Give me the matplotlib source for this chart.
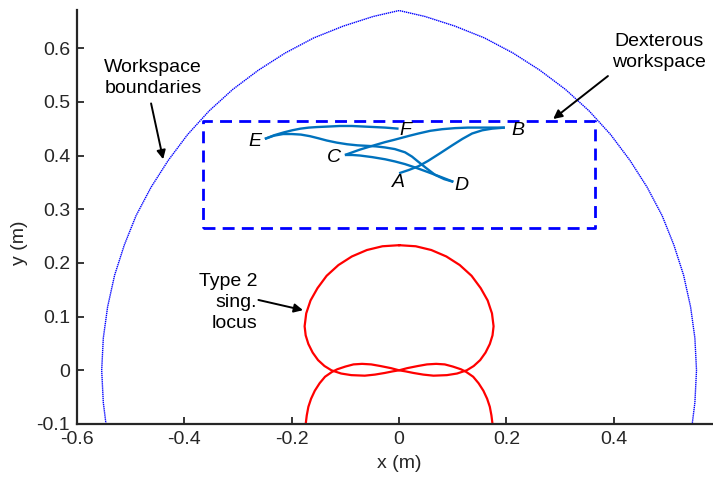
import matplotlib
matplotlib.use('Agg')
import matplotlib.pyplot as plt

plt.rcParams['font.family'] = ['Liberation Sans', 'DejaVu Sans']
plt.rcParams['axes.unicode_minus'] = False

# workspace boundary, right arc (left arc is its mirror)
arc_x = [0.000, 0.048, 0.104, 0.159, 0.212, 0.262, 0.310, 0.354, 0.394, 0.430,
         0.462, 0.490, 0.512, 0.530, 0.543, 0.551, 0.554, 0.551, 0.546]
arc_y = [0.670, 0.659, 0.641, 0.619, 0.591, 0.559, 0.523, 0.483, 0.439, 0.391,
         0.341, 0.288, 0.233, 0.177, 0.118, 0.060, 0.000, -0.060, -0.100]

# dexterous workspace rectangle
dex_x = [-0.365, 0.365, 0.365, -0.365, -0.365]
dex_y = [0.265, 0.265, 0.465, 0.465, 0.265]

# type 2 singularity locus, right halves (mirrored for the left)
loop_x = [0.000, 0.031, 0.060, 0.088, 0.113, 0.135, 0.152, 0.165, 0.173, 0.176,
          0.174, 0.169, 0.161, 0.151, 0.139, 0.126, 0.108, 0.089, 0.064, 0.045,
          0.027, 0.012, 0.000]
loop_y = [0.233, 0.231, 0.224, 0.212, 0.196, 0.176, 0.153, 0.130, 0.106, 0.082,
          0.065, 0.049, 0.033, 0.019, 0.008, 0.000, -0.006, -0.009, -0.010, -0.008,
          -0.005, -0.002, 0.000]
arch_x = [0.000, 0.015, 0.035, 0.052, 0.069, 0.085, 0.100, 0.115, 0.125, 0.138,
          0.148, 0.157, 0.164, 0.169, 0.172, 0.174]
arch_y = [0.000, 0.004, 0.008, 0.011, 0.012, 0.011, 0.007, 0.002, -0.003, -0.012,
          -0.024, -0.038, -0.053, -0.068, -0.084, -0.100]

# trajectories between poses
traj = {
    'EF': ([-0.250, -0.232, -0.215, -0.199, -0.184, -0.168, -0.153, -0.131, -0.110,
            -0.088, -0.067, -0.046, -0.026, -0.001],
           [0.431, 0.438, 0.443, 0.447, 0.450, 0.452, 0.453, 0.454, 0.455,
            0.455, 0.454, 0.453, 0.452, 0.450]),
    'ED': ([-0.250, -0.233, -0.216, -0.200, -0.183, -0.166, -0.150, -0.135, -0.116,
            -0.097, -0.078, -0.060, -0.043, -0.026, -0.008, 0.011, 0.024, 0.035,
            0.050, 0.067, 0.084, 0.101],
           [0.431, 0.437, 0.440, 0.440, 0.439, 0.436, 0.432, 0.428, 0.424,
            0.421, 0.419, 0.418, 0.417, 0.415, 0.412, 0.406, 0.398, 0.389,
            0.377, 0.364, 0.356, 0.351]),
    'CB': ([-0.101, -0.087, -0.073, -0.050, -0.026, -0.010, 0.005, 0.020, 0.036,
            0.058, 0.080, 0.104, 0.128, 0.160, 0.197],
           [0.401, 0.406, 0.411, 0.418, 0.425, 0.429, 0.433, 0.437, 0.441,
            0.446, 0.449, 0.451, 0.452, 0.452, 0.452]),
    'CD': ([-0.101, -0.087, -0.073, -0.050, -0.026, -0.008, 0.011, 0.032, 0.054,
            0.078, 0.101],
           [0.401, 0.401, 0.400, 0.397, 0.393, 0.389, 0.384, 0.377, 0.369,
            0.360, 0.351]),
    'AB': ([0.000, 0.018, 0.036, 0.054, 0.076, 0.099, 0.118, 0.136, 0.155, 0.173, 0.197],
           [0.367, 0.373, 0.380, 0.390, 0.404, 0.419, 0.431, 0.441, 0.447, 0.450, 0.452]),
}

pose_names = ['E', 'C', 'F', 'B', 'A', 'D']
pose_x = [-0.268, -0.121, 0.011, 0.222, -0.002, 0.117]
pose_y = [0.427, 0.397, 0.447, 0.447, 0.349, 0.345]

W, H = 713, 482
fig = plt.figure(figsize=(W / 100, H / 100), dpi=100)
ax = fig.add_axes([77 / W, 58 / H, 1 - 77 / W, 414 / H])

# boundary
bx = [-v for v in arc_x[::-1]] + arc_x[1:]
by = arc_y[::-1] + arc_y[1:]
ax.plot(bx, by, color='#0000ff', lw=1.0, ls=(0, (1, 0.5)))

ax.plot(dex_x, dex_y, color='#0000ff', lw=2.0, dashes=(4.3, 2.6))

lx = [-v for v in loop_x] + loop_x[::-1]
ly = loop_y + loop_y[::-1]
ax.plot(lx, ly, color='#ff0000', lw=1.6, solid_joinstyle='round')
ax.plot([-v for v in arch_x[::-1]] + arch_x[1:], arch_y[::-1] + arch_y[1:],
        color='#ff0000', lw=1.6, solid_joinstyle='round')

for k, (tx, ty) in traj.items():
    ax.plot(tx, ty, color='#0072bd', lw=1.7, solid_capstyle='butt', solid_joinstyle='round')

for n, px, py in zip(pose_names, pose_x, pose_y):
    ax.text(px, py, n, fontsize=14, style='italic', ha='center', va='center')

arrow = dict(arrowstyle='-|>', color='black', lw=1.4, mutation_scale=13, shrinkA=0, shrinkB=0)
ax.text(-0.458, 0.544, 'Workspace\nboundaries', fontsize=14, ha='center', va='center',
        linespacing=1.3)
ax.annotate('', xy=(-0.4395, 0.393), xytext=(-0.462, 0.497), arrowprops=arrow)
ax.text(0.484, 0.593, 'Dexterous\nworkspace', fontsize=14, ha='center', va='center',
        linespacing=1.3)
ax.annotate('', xy=(0.287, 0.468), xytext=(0.389, 0.548), arrowprops=arrow)
ax.text(-0.264, 0.127, 'Type 2\nsing.\nlocus', fontsize=14, ha='right', va='center',
        multialignment='right', linespacing=1.3)
ax.annotate('', xy=(-0.179, 0.112), xytext=(-0.262, 0.131), arrowprops=arrow)

ax.set_xlim(-0.6, (W - 399) / 537)
ax.set_ylim(-0.1, 0.671)
ax.set_xticks([-0.6, -0.4, -0.2, 0, 0.2, 0.4])
ax.set_xticklabels(['-0.6', '-0.4', '-0.2', '0', '0.2', '0.4'])
ax.set_yticks([-0.1, 0, 0.1, 0.2, 0.3, 0.4, 0.5, 0.6])
ax.set_yticklabels(['-0.1', '0', '0.1', '0.2', '0.3', '0.4', '0.5', '0.6'])

for s in ['top', 'right']:
    ax.spines[s].set_visible(False)
for s in ['left', 'bottom']:
    ax.spines[s].set_linewidth(1.6)
    ax.spines[s].set_color('#262626')
ax.tick_params(direction='in', length=5, width=1.3, colors='#262626',
               labelsize=14, pad=5)

ax.set_xlabel('x (m)', fontsize=14, color='#262626')
ax.set_ylabel('y (m)', fontsize=14, color='#262626')
ax.xaxis.set_label_coords(399 / W, (H - 455) / H, transform=fig.transFigure)
ax.yaxis.set_label_coords(28 / W, (H - 243) / H, transform=fig.transFigure)

fig.savefig('out.png', dpi=100)
